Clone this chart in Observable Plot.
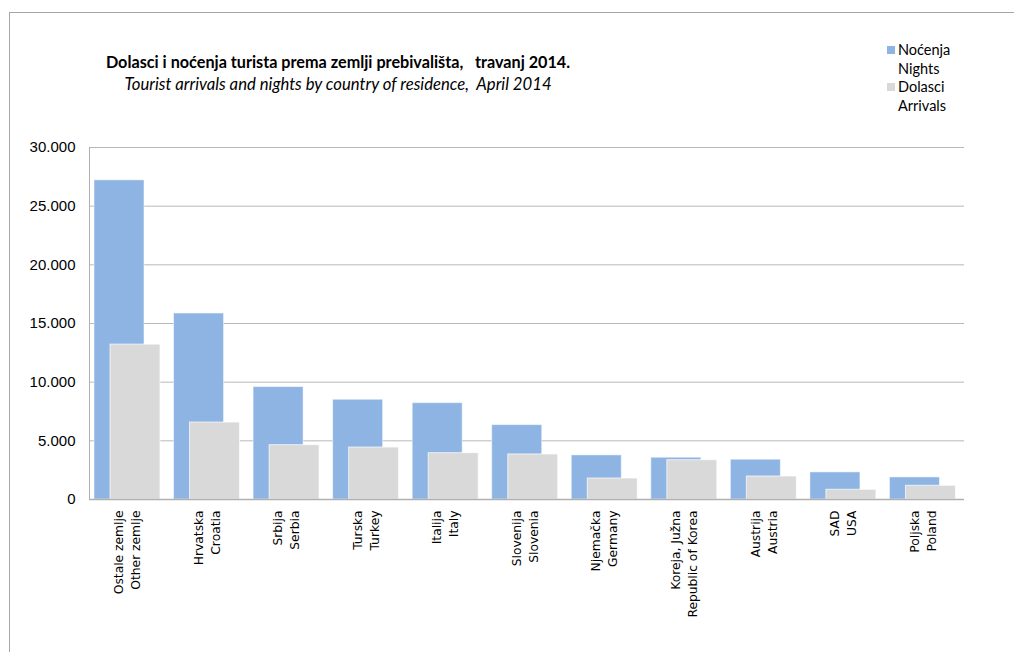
<!DOCTYPE html>
<html>
<head>
<meta charset="utf-8">
<script src="https://cdn.jsdelivr.net/npm/d3@7"></script>
<script src="https://cdn.jsdelivr.net/npm/@observablehq/plot@0.6"></script>
<style>
  body { margin: 0; background: #fff; }
  #wrap { position: relative; width: 1014px; height: 652px; overflow: hidden; font-family: Lato, "Liberation Sans", sans-serif; color: #000; }
  #frame { position: absolute; left: 9px; top: 12px; width: 1020px; height: 660px; border-top: 1px solid #a6a6a6; border-left: 1px solid #a6a6a6; }
  #header { position: relative; height: 130px; }
  #title { position: absolute; left: 338px; top: 52px; transform: translateX(-50%); white-space: pre; font-weight: bold; font-size: 16.2px; }
  #subtitle { position: absolute; left: 338px; top: 74px; transform: translateX(-50%); white-space: pre; font-style: italic; font-size: 16.7px; }
  #legend { position: absolute; left: 887px; top: 41px; font-size: 14.5px; line-height: 18.7px; }
  .item { position: relative; padding-left: 11px; white-space: pre; }
  .sw { position: absolute; left: 0; top: 5px; width: 8px; height: 8px; }
  #chart { position: absolute; left: 0; top: 130px; }
</style>
</head>
<body>
<div id="wrap">
  <div id="frame"></div>
  <div id="header">
    <div id="title">Dolasci i noćenja turista prema zemlji prebivališta,   travanj 2014.</div>
    <div id="subtitle">Tourist arrivals and nights by country of residence,  April 2014</div>
    <div id="legend"></div>
  </div>
  <div id="chart"></div>
</div>
<script>
// ---- data ----
const categories = [
  "Ostale zemlje\nOther zemlje",
  "Hrvatska\nCroatia",
  "Srbija\nSerbia",
  "Turska\nTurkey",
  "Italija\nItaly",
  "Slovenija\nSlovenia",
  "Njemačka\nGermany",
  "Koreja, Južna\nRepublic of Korea",
  "Austrija\nAustria",
  "SAD\nUSA",
  "Poljska\nPoland"
];
const nights   = [27200, 15850, 9580, 8500, 8210, 6340, 3760, 3560, 3390, 2310, 1880];
const arrivals = [13200, 6560, 4630, 4430, 3950, 3840, 1790, 3350, 1960, 830, 1170];
const seriesNames = ["Noćenja\nNights", "Dolasci\nArrivals"];
const yTicks = [0, 5000, 10000, 15000, 20000, 25000, 30000];

// ---- build ----
const table = categories.map((c, i) => ({country: c, nights: nights[i], arrivals: arrivals[i]}));
const colors = ["#8EB4E3", "#D9D9D9"];

const legend = document.getElementById("legend");
seriesNames.forEach((name, i) => {
  const d = document.createElement("div");
  d.className = "item";
  d.textContent = name;
  const sw = document.createElement("span");
  sw.className = "sw";
  sw.style.background = colors[i];
  d.appendChild(sw);
  legend.appendChild(d);
});

const locale = d3.formatLocale({decimal: ",", thousands: ".", grouping: [3], currency: ["", ""]});
const fmt = locale.format(",");

const W = 1014, mL = 89, mR = 50;
const bw = (W - mL - mR) / categories.length;
const barW = 50, offset = 16;
const left0 = 5;

const plot = Plot.plot({
  width: W,
  height: 522,
  marginTop: 17,
  marginBottom: 153,
  marginLeft: mL,
  marginRight: mR,
  style: {background: "transparent", overflow: "visible"},
  x: {type: "band", domain: categories, padding: 0, round: false, label: null},
  y: {domain: [0, 30000], label: null},
  marks: [
    Plot.gridY(yTicks, {stroke: "#b8b8b8", strokeOpacity: 1}),
    Plot.barY(table, {x: "country", y: "nights", fill: colors[0],
      insetLeft: left0, insetRight: bw - left0 - barW, stroke: "#fff", strokeOpacity: 0.5}),
    Plot.barY(table, {x: "country", y: "arrivals", fill: colors[1],
      insetLeft: left0 + offset, insetRight: bw - left0 - offset - barW, stroke: "#fff", strokeOpacity: 0.7}),
    Plot.ruleY([0], {stroke: "#b0b0b0", strokeWidth: 1.5}),
    Plot.frame({anchor: "left", stroke: "#b0b0b0"}),
    Plot.axisY(yTicks, {tickSize: 0, tickPadding: 14, tickFormat: fmt, fontSize: 15, fontFamily: "Liberation Sans", fill: "#000", label: null}),
    Plot.axisX({tickSize: 0, tickPadding: 11, tickRotate: -90, fontSize: 12.3, lineHeight: 1.38, dx: -3, fontFamily: "DejaVu Sans", fill: "#000", label: null})
  ]
});
document.getElementById("chart").appendChild(plot);
</script>
</body>
</html>
